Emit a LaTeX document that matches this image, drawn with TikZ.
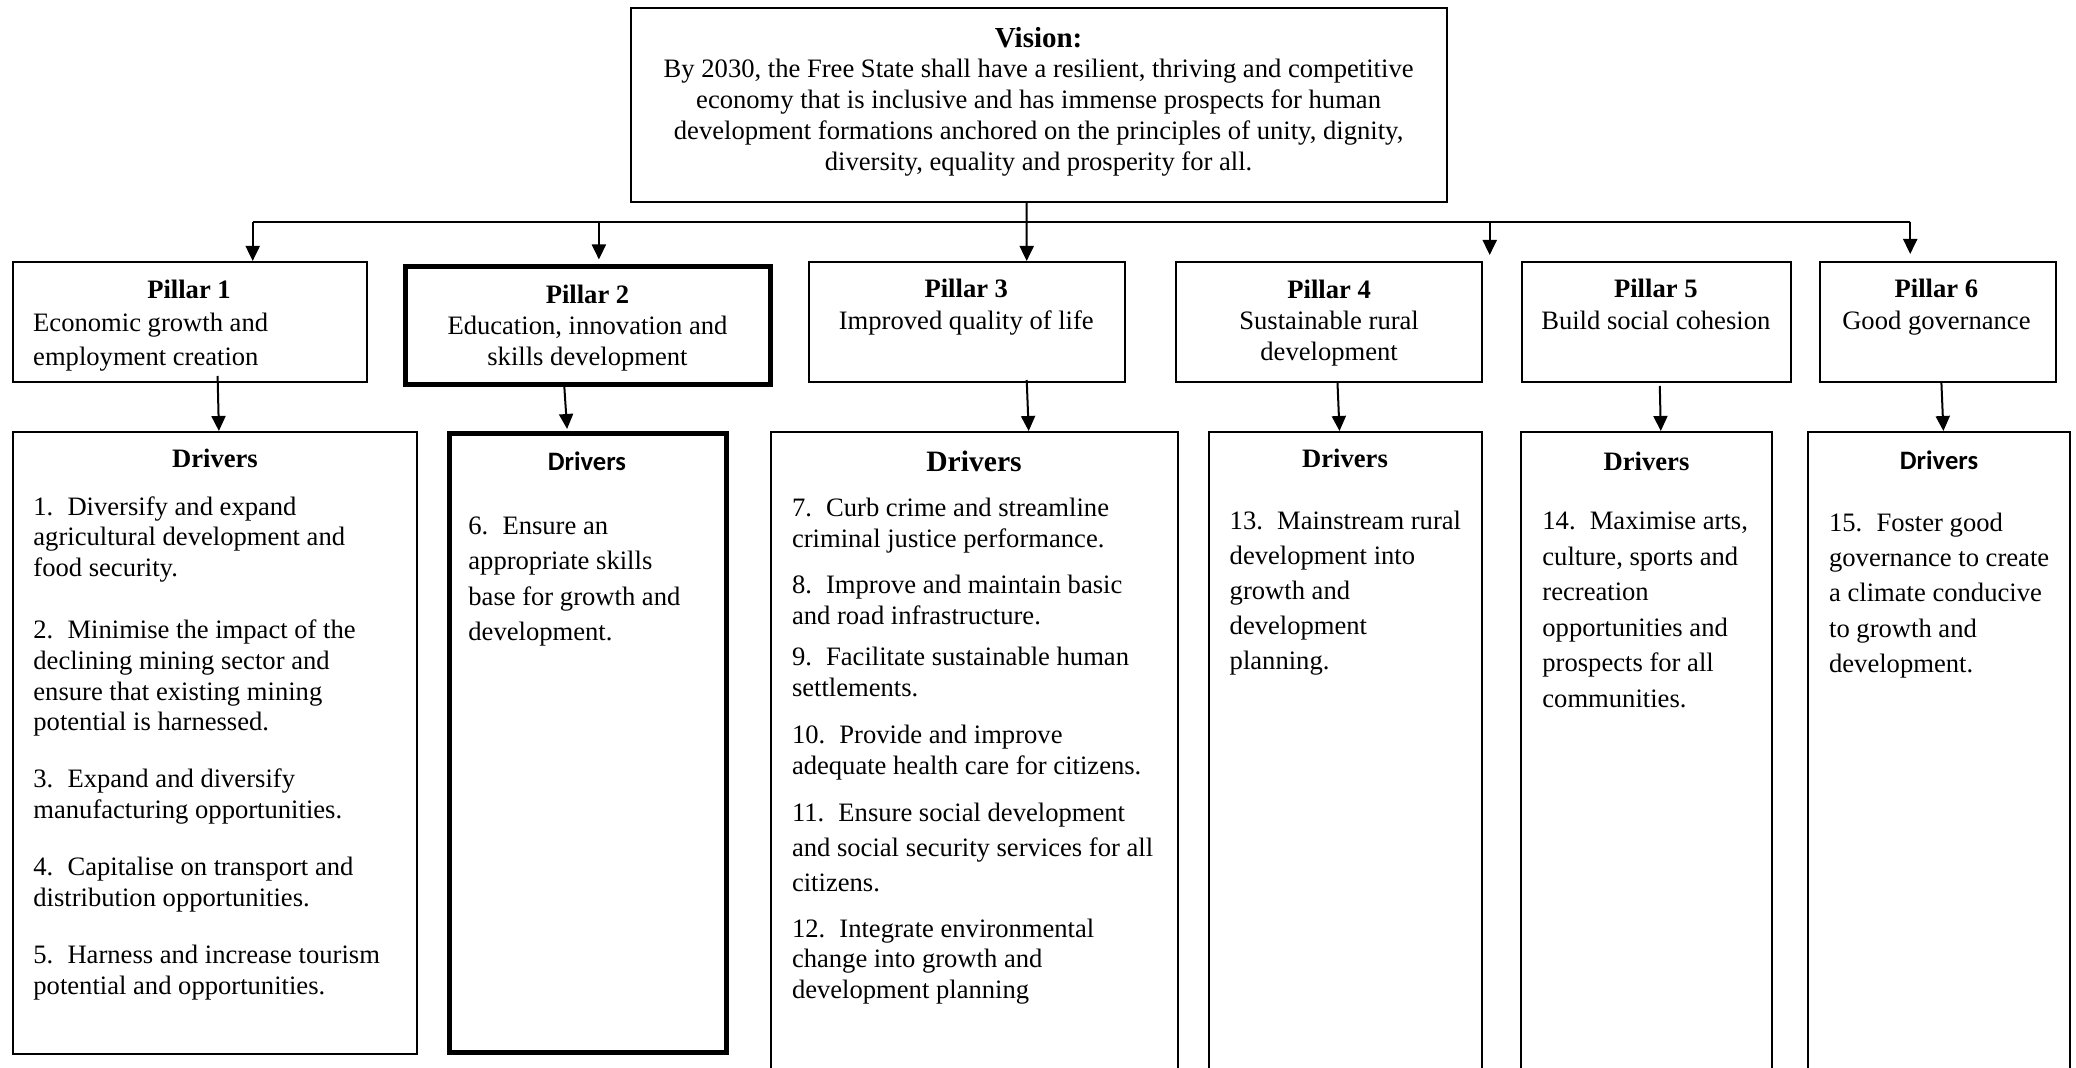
\documentclass[tikz,border=0pt]{standalone}
\usepackage{fontspec}
\setmainfont{Liberation Serif}
\newfontfamily\carlito{Carlito}
\usetikzlibrary{arrows.meta,calc}

% number of a driver, followed by the list gap
\newcommand\drvnum[1]{#1.\hspace{7.1pt}}

\tikzset{
  box/.style={draw, line width=1pt, inner sep=0pt},
  thickbox/.style={draw, line width=2.5pt, inner sep=0pt},
  txt/.style={inner sep=0pt, font=\fontsize{13.3}{15.4}\selectfont},
  ttl/.style={inner sep=0pt, font=\fontsize{13.3}{15.4}\selectfont\bfseries},
  sansttl/.style={inner sep=0pt, font=\fontsize{13.3}{15.4}\selectfont\carlito\bfseries},
  conn/.style={line width=1pt},
  arr/.style={line width=1pt, -{Triangle[length=7.5pt,width=7pt]}},
}

\begin{document}
\begin{tikzpicture}[x=0.5pt,y=-0.5pt]
\fill[white] (0,0) rectangle (2076,1068);
\clip (0,0) rectangle (2076,1068);

% ---------- vision ----------
\node[box, minimum width=407.85pt, minimum height=97pt] (vision) at (1039.3,105) {};
\node[txt, align=center] (visiontext) at (1038.6,101.5)
  {{\fontsize{14.5}{15.4}\selectfont\bfseries Vision:}\\
   By 2030, the Free State shall have a resilient, thriving and competitive\\
   economy that is inclusive and has immense prospects for human\\
   development formations anchored on the principles of unity, dignity,\\
   diversity, equality and prosperity for all.};

% ---------- pillars ----------
\node[box, minimum width=177.1pt, minimum height=60pt] (p1) at (190,322) {};
\node[thickbox, minimum width=182.7pt, minimum height=59pt] (p2) at (587.8,326) {};
\node[box, minimum width=158.35pt, minimum height=60pt] (p3) at (967.1,322) {};
\node[box, minimum width=152.7pt, minimum height=60pt] (p4) at (1329,322) {};
\node[box, minimum width=134.8pt, minimum height=60pt] (p5) at (1656.3,322) {};
\node[box, minimum width=117.75pt, minimum height=60pt] (p6) at (1937.8,322) {};

\node[ttl] (p1title) at (189,289) {Pillar 1};
\node[txt, align=left, anchor=north west, font=\fontsize{13.3}{17.2}\selectfont]
  (p1body) at (32.8,312.7) {Economic growth and\\employment creation};
\node[txt, align=center, font=\fontsize{13.3}{15.5}\selectfont] (p2text) at (587.5,328)
  {\textbf{Pillar 2}\\Education, innovation and\\skills development};
\node[txt, align=center, font=\fontsize{13.3}{16}\selectfont] (p3text) at (966.3,307.6)
  {\textbf{Pillar 3}\\Improved quality of life};
\node[txt, align=center, font=\fontsize{13.3}{15.5}\selectfont] (p4text) at (1329.1,322.8)
  {\textbf{Pillar 4}\\Sustainable rural\\development};
\node[txt, align=center, font=\fontsize{13.3}{16}\selectfont] (p5text) at (1655.8,304.4)
  {\textbf{Pillar 5}\\Build social cohesion};
\node[txt, align=center, font=\fontsize{13.3}{16}\selectfont] (p6text) at (1936.4,307.6)
  {\textbf{Pillar 6}\\Good governance};

% ---------- drivers ----------
\node[box, minimum width=202pt, minimum height=311pt] (d1) at (215,743) {};
\node[thickbox, minimum width=138.5pt, minimum height=309.5pt] (d2) at (588,743) {};
\node[box, minimum width=203.5pt, minimum height=339pt] (d3) at (974,771) {};
\node[box, minimum width=136.5pt, minimum height=339pt] (d4) at (1345.5,771) {};
\node[box, minimum width=125.7pt, minimum height=339pt] (d5) at (1646.7,771) {};
\node[box, minimum width=131pt, minimum height=339pt] (d6) at (1939,771) {};

\node[ttl] (d1title) at (215,458) {Drivers};
\node[sansttl] (d2title) at (587,461) {Drivers};
\node[ttl, font=\fontsize{14.8}{15.4}\selectfont\bfseries] (d3title) at (974,461) {Drivers};
\node[ttl] (d4title) at (1345,458) {Drivers};
\node[ttl] (d5title) at (1646.5,461) {Drivers};
\node[sansttl] (d6title) at (1939,460) {Drivers};

\node[txt, align=left, anchor=north west] (d1body) at (33,496)
  {\drvnum{1}Diversify and expand\\
   agricultural development and\\
   food security.\\[15.5pt]
   \drvnum{2}Minimise the impact of the\\
   declining mining sector and\\
   ensure that existing mining\\
   potential is harnessed.\\[13pt]
   \drvnum{3}Expand and diversify\\
   manufacturing opportunities.\\[13pt]
   \drvnum{4}Capitalise on transport and\\
   distribution opportunities.\\[13.2pt]
   \drvnum{5}Harness and increase tourism\\
   potential and opportunities.};

\node[txt, align=left, anchor=north west, font=\fontsize{13.3}{17.7}\selectfont]
  (d2body) at (468,516.4)
  {\drvnum{6}Ensure an\\
   appropriate skills\\
   base for growth and\\
   development.};

\node[txt, align=left, anchor=north west] (d3body) at (791.6,498)
  {\drvnum{7}Curb crime and streamline\\
   criminal justice performance.\\[7.5pt]
   \drvnum{8}Improve and maintain basic\\
   and road infrastructure.\\[5.25pt]
   \drvnum{9}Facilitate sustainable human\\
   settlements.\\[8.15pt]
   \drvnum{10}Provide and improve\\
   adequate health care for citizens.\\[8.15pt]
   \drvnum{11}Ensure social development\\[2.15pt]
   and social security services for all\\[2.15pt]
   citizens.\\[7.35pt]
   \drvnum{12}Integrate environmental\\
   change into growth and\\
   development planning};

\node[txt, align=left, anchor=north west, font=\fontsize{13.3}{17.45}\selectfont]
  (d4body) at (1229.3,511)
  {\drvnum{13}Mainstream rural\\
   development into\\
   growth and\\
   development\\
   planning.};

\node[txt, align=left, anchor=north west, font=\fontsize{13.3}{17.8}\selectfont]
  (d5body) at (1542,511.5)
  {\drvnum{14}Maximise arts,\\
   culture, sports and\\
   recreation\\
   opportunities and\\
   prospects for all\\
   communities.};

\node[txt, align=left, anchor=north west, font=\fontsize{13.3}{17.65}\selectfont]
  (d6body) at (1828.7,512.5)
  {\drvnum{15}Foster good\\
   governance to create\\
   a climate conducive\\
   to growth and\\
   development.};

% ---------- connectors: vision to pillars ----------
\coordinate (busL) at (252.7,222);
\coordinate (busR) at (1910.2,222);
\coordinate (busP2) at (598.9,222);
\coordinate (busP4) at (1489.7,222);
\coordinate (endP4) at (1489.7,255);
\draw[conn] (busL) -- (busR);
\draw[arr] ($(vision.south)+(-12.6,0)$) -- ($(p3.north)+(59.6,0)$);
\draw[arr] (busL) -- (busL |- p1.north);
\draw[arr] (busP2) -- ($(p2.north)+(11.1,-5)$);
\draw[arr] (busP4) -- (endP4);
\draw[arr] (busR) -- ($(p6.north)+(-27.6,-7)$);

% ---------- connectors: pillars to drivers ----------
\draw[arr] ($(p1.south)+(27.6,-7)$) -- ($(d1.north)+(3.9,0)$);
\draw[arr] ($(p2.south)+(-23.7,-4)$) -- ($(d2.north)+(-20.9,-2)$);
\draw[arr] ($(p3.south)+(59.6,-3)$) -- ($(d3.north)+(54.7,0)$);
\draw[arr] ($(p4.south)+(8.5,0)$) -- ($(d4.north)+(-6,0)$);
\draw[arr] ($(p5.south)+(3.5,3)$) -- ($(d5.north)+(14.1,0)$);
\draw[arr] ($(p6.south)+(3.6,0)$) -- ($(d6.north)+(4.4,0)$);
\end{tikzpicture}
\end{document}
